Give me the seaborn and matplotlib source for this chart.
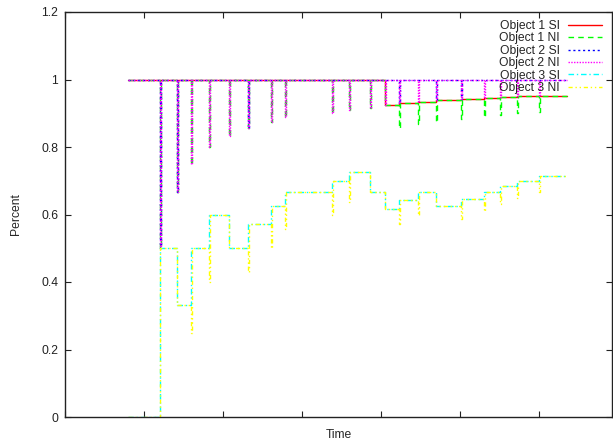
import matplotlib
matplotlib.use("Agg")
import matplotlib.pyplot as plt
import seaborn as sns

# event times (arbitrary time units, x axis has no labels)
t_start = 0.797
t_end = 6.354
event_t = [1.203, 1.418, 1.595, 1.823, 2.076, 2.316, 2.608, 2.785, 3.380, 3.595,
           3.861, 4.051, 4.228, 4.468, 4.696, 5.013, 5.304, 5.506, 5.722, 6.000]

# level after each event and the momentary value at the event
obj1_si = [1, 1, 1, 1, 1, 1, 1, 1, 1, 1,
           1, 0.923, 0.929, 0.933, 0.938, 0.941, 0.944, 0.947, 0.95, 0.952]
obj1_ni = [0.5, 0.667, 0.75, 0.8, 0.833, 0.857, 0.875, 0.889, 0.9, 0.909,
           0.917, 0.923, 0.857, 0.867, 0.875, 0.882, 0.889, 0.895, 0.9, 0.905]
obj2_level = [1] * 20
obj2_si = [0.5, 0.667, 1, 1, 1, 0.857, 1, 1, 1, 1,
           1, 1, 0.929, 1, 0.938, 0.941, 1, 1, 1, 1]
obj2_ni = [0.5, 0.667, 0.75, 0.8, 0.833, 0.857, 0.875, 0.889, 0.9, 0.909,
           0.917, 0.923, 0.929, 0.934, 0.938, 0.941, 0.945, 0.947, 0.95, 0.952]
obj3_si = [0.5, 0.333, 0.5, 0.6, 0.5, 0.571, 0.625, 0.667, 0.7, 0.727,
           0.667, 0.615, 0.643, 0.667, 0.625, 0.647, 0.667, 0.684, 0.7, 0.714]
obj3_ni = [0.5, 0.333, 0.25, 0.4, 0.5, 0.429, 0.5, 0.556, 0.6, 0.636,
           0.667, 0.615, 0.571, 0.6, 0.625, 0.588, 0.611, 0.632, 0.65, 0.667]

eps = 0.012


def step_points(start_y, levels, dips):
    xs = [t_start]
    ys = [start_y]
    for t, lv, dp in zip(event_t, levels, dips):
        if dp != lv:
            xs += [t, t + eps]
            ys += [dp, lv]
        else:
            xs.append(t)
            ys.append(lv)
    xs.append(t_end)
    ys.append(levels[-1])
    return xs, ys


series = [
    ("Object 1 SI", 1, obj1_si, obj1_si, "#ff0000", "-"),
    ("Object 1 NI", 1, obj1_si, obj1_ni, "#00ff00", (0, (4, 3))),
    ("Object 2 SI", 1, obj2_level, obj2_si, "#0000ff", (0, (1.5, 2))),
    ("Object 2 NI", 1, obj2_level, obj2_ni, "#ff00ff", (0, (1, 1))),
    ("Object 3 SI", 0, obj3_si, obj3_si, "#00ffff", (0, (4, 2, 1, 2))),
    ("Object 3 NI", 0, obj3_si, obj3_ni, "#ffff00", (0, (3, 2, 1, 2, 1, 2))),
]

sns.set_style("ticks")
plt.rcParams['font.family'] = ['Liberation Sans', 'DejaVu Sans']

fig = plt.figure(figsize=(6.13, 4.42), dpi=100)
ax = fig.add_axes([65 / 613, 25 / 442, 547 / 613, 405 / 442])

for name, y0, levels, dips, color, ls in series:
    xs, ys = step_points(y0, levels, dips)
    sns.lineplot(x=xs, y=ys, ax=ax, estimator=None, sort=False,
                 drawstyle="steps-post", color=color, linestyle=ls,
                 linewidth=1.0, label=name)

leg = ax.get_legend()
if leg is not None:
    leg.remove()
lines = ax.get_lines()
ax.legend(lines, [s[0] for s in series], loc="upper right",
          bbox_to_anchor=(0.982, 0.98), frameon=False, markerfirst=False,
          fontsize=8.7, handlelength=2.8, handletextpad=0.7,
          labelspacing=0.03, borderpad=0, borderaxespad=0)

ax.set_xlim(0, 547 / 79)
ax.set_ylim(0, 1.2)
ax.set_xticks(range(0, 7))
ax.set_xticklabels([])
ax.set_yticks([0, 0.2, 0.4, 0.6, 0.8, 1.0, 1.2])
ax.set_yticklabels(["0", "0.2", "0.4", "0.6", "0.8", "1", "1.2"])
ax.tick_params(direction="in", length=4.5, width=0.8, top=True, right=True,
               labelsize=8.7, colors="#222222", pad=5)
for sp in ax.spines.values():
    sp.set_visible(True)
    sp.set_linewidth(1.0)
    sp.set_color("#222222")

ax.set_xlabel("Time", fontsize=8.7, labelpad=4)
ax.set_ylabel("Percent", fontsize=8.7, labelpad=14)

fig.savefig("out.png", dpi=100)
